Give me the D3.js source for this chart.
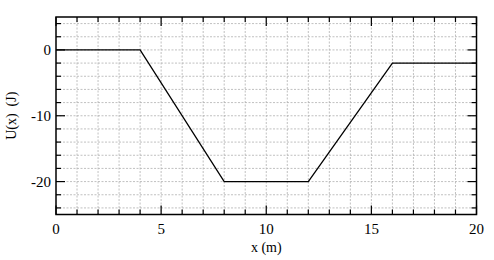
<!DOCTYPE html>
<html>
<head>
<meta charset="utf-8">
<script src="https://cdn.jsdelivr.net/npm/d3@7"></script>
<style>
  body { margin: 0; background: #fff; }
</style>
</head>
<body>
<div id="chart"></div>
<script>
// potential energy curve U(x)
var xValues = [0, 4, 8, 12, 16, 20];
var uValues = [0, 0, -20, -20, -2, -2];
var xTickLabels = [0, 5, 10, 15, 20];
var yTickLabels = [0, -10, -20];

var W = 494, H = 260;
var margin = {left: 56, right: 17.5, top: 17, bottom: 45.5};
var FONT = "'Liberation Serif', serif";

var svg = d3.select("#chart").append("svg")
    .attr("width", W)
    .attr("height", H);

var x = d3.scaleLinear().domain([0, 20]).range([margin.left, W - margin.right]);
var y = d3.scaleLinear().domain([-25, 5]).range([H - margin.bottom, margin.top]);

var minorX = d3.range(0, 21, 1);
var minorY = d3.range(-24, 5, 2);

// dotted grid
svg.append("g").selectAll("line").data(minorX.slice(1, -1)).enter().append("line")
    .attr("x1", function(d) { return x(d); }).attr("x2", function(d) { return x(d); })
    .attr("y1", y(5)).attr("y2", y(-25))
    .attr("stroke", "#b0b0b0").attr("stroke-width", 0.8).attr("stroke-dasharray", "2,1.5");
svg.append("g").selectAll("line").data(minorY).enter().append("line")
    .attr("y1", function(d) { return y(d); }).attr("y2", function(d) { return y(d); })
    .attr("x1", x(0)).attr("x2", x(20))
    .attr("stroke", "#b0b0b0").attr("stroke-width", 0.8).attr("stroke-dasharray", "2,1.5");

// inward ticks on all four sides
function ticks(g, vals, len, side) {
    g.selectAll("line.t" + side + len).data(vals).enter().append("line")
        .attr("x1", function(d) { return side == "b" || side == "t" ? x(d) : (side == "l" ? x(0) : x(20)); })
        .attr("x2", function(d) { return side == "b" || side == "t" ? x(d) : (side == "l" ? x(0) + len : x(20) - len); })
        .attr("y1", function(d) { return side == "l" || side == "r" ? y(d) : (side == "b" ? y(-25) : y(5)); })
        .attr("y2", function(d) { return side == "l" || side == "r" ? y(d) : (side == "b" ? y(-25) - len : y(5) + len); })
        .attr("stroke", "#000").attr("stroke-width", 1.2);
}
var tg = svg.append("g");
var minorXonly = minorX.filter(function(d) { return d % 5 != 0; });
var minorYonly = minorY.filter(function(d) { return d % 10 != 0; });
["b", "t"].forEach(function(s) {
    ticks(tg, minorXonly, 5, s);
    ticks(tg, xTickLabels, 9, s);
});
["l", "r"].forEach(function(s) {
    ticks(tg, minorYonly, 5, s);
    ticks(tg, yTickLabels, 9, s);
});

// frame
svg.append("rect")
    .attr("x", x(0)).attr("y", y(5))
    .attr("width", x(20) - x(0)).attr("height", y(-25) - y(5))
    .attr("fill", "none").attr("stroke", "#000").attr("stroke-width", 1.5);

// the curve
var line = d3.line()
    .x(function(d, i) { return x(xValues[i]); })
    .y(function(d) { return y(d); });
svg.append("path")
    .datum(uValues)
    .attr("d", line)
    .attr("fill", "none").attr("stroke", "#000").attr("stroke-width", 1.3);

// tick labels
svg.append("g").selectAll("text").data(xTickLabels).enter().append("text")
    .attr("x", function(d) { return x(d); })
    .attr("y", y(-25) + 19)
    .attr("text-anchor", "middle")
    .style("font-family", FONT)
    .style("font-size", "15px")
    .text(function(d) { return d; });
svg.append("g").selectAll("text").data(yTickLabels).enter().append("text")
    .attr("x", x(0) - 5)
    .attr("y", function(d) { return y(d) + 5; })
    .attr("text-anchor", "end")
    .style("font-family", FONT)
    .style("font-size", "15px")
    .text(function(d) { return d; });

// axis titles
svg.append("text")
    .attr("x", (x(0) + x(20)) / 2)
    .attr("y", 252)
    .attr("text-anchor", "middle")
    .style("font-family", FONT)
    .style("font-size", "14px")
    .text("x (m)");
svg.append("text")
    .attr("transform", "translate(16," + ((y(5) + y(-25)) / 2) + ") rotate(-90)")
    .attr("text-anchor", "middle")
    .style("font-family", FONT)
    .style("font-size", "14px")
    .style("white-space", "pre")
    .text("U(x)  (J)");
</script>
</body>
</html>
